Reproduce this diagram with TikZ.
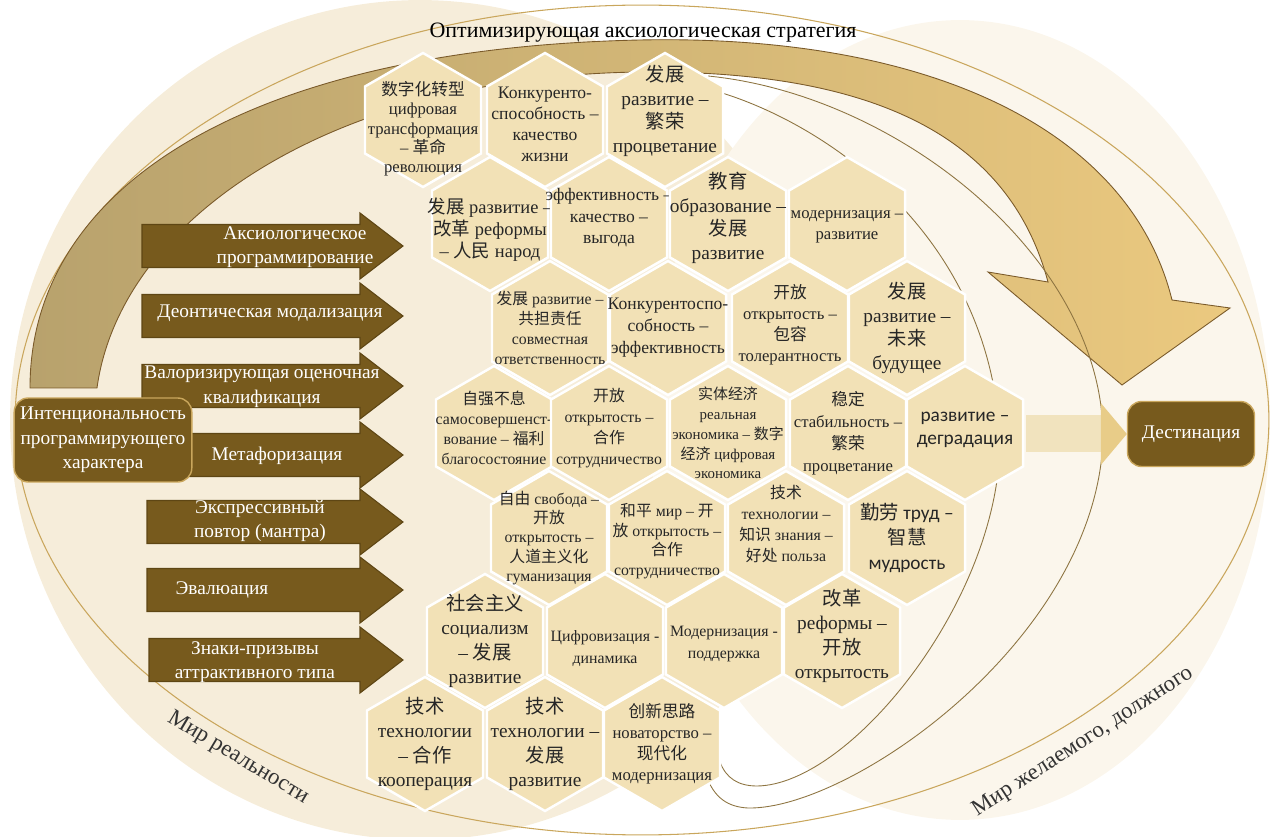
\documentclass[tikz,border=0pt]{standalone}
\usepackage{fontspec}
\setmainfont{Liberation Serif}
\newfontfamily\cjk{Noto Sans CJK SC}
\newfontfamily\calib{Carlito}
\newcommand{\zh}[1]{{\cjk #1}}
\usetikzlibrary{shapes.geometric,calc}

\definecolor{hexfill}{HTML}{F2E1B6}
\definecolor{arrowbrown}{HTML}{775A1D}
\definecolor{arrowedge}{HTML}{5E4614}
\definecolor{goldline}{HTML}{C9A65C}
\definecolor{realfill}{HTML}{F6EDDA}
\definecolor{wishfill}{HTML}{FBF6EC}
\definecolor{bandleft}{HTML}{B8A26D}
\definecolor{bandright}{HTML}{EBC97F}
\definecolor{bandedge}{HTML}{7A5A2A}
\definecolor{beigebody}{HTML}{F1E3BE}
\definecolor{beigehead}{HTML}{E8CC88}

\begin{document}
\begin{tikzpicture}[x=0.02cm,y=-0.02cm,
    hexa/.style={regular polygon, regular polygon sides=6, shape border rotate=30,
        minimum size=2.68cm, inner sep=0pt, fill=hexfill, draw=white, line width=1.4pt},
    hexlab/.style={align=center, inner sep=0pt, text=black!85},
    armtext/.style={align=center, text=white, font=\fontsize{11}{14}\selectfont},
    darkbox/.style={rounded corners=8pt, fill=arrowbrown, draw=goldline, line width=0.8pt,
        text=white, align=center, font=\fontsize{11}{14}\selectfont},
    worldlab/.style={text=black!80, font=\fontsize{13}{15}\selectfont}]
    \useasboundingbox (0,0) rectangle (1271,837);

    % deux mondes
    \fill[realfill] (420,420) ellipse [x radius=8.2cm, y radius=8.4cm];
    \fill[wishfill] (960,420) ellipse [x radius=6.2cm, y radius=8cm];
    \draw[goldline, line width=0.6pt] (642,420) ellipse [x radius=12.54cm, y radius=8.3cm];

    % grande fleche
    \shade[left color=bandleft, right color=bandright, draw=bandedge, line width=0.5pt]
        (30,388) .. controls (30,180) and (260,48) .. (640,40) .. controls (930,34) and (1130,130) .. (1172,300)
        -- (1230,308) -- (1122,385) -- (988,272) -- (1048,282)
        .. controls (1010,140) and (880,70) .. (640,72) .. controls (330,76) and (120,220) .. (97,388) -- cycle;
    \node[font=\fontsize{12.5}{14}\selectfont] (strat) at (643,33) {Оптимизирующая аксиологическая стратегия};

    % boucles fines
    \draw[goldline!70!black, line width=0.5pt] (708,76) .. controls (900,95) and (1105,260) .. (1103,440)
        .. controls (1095,640) and (850,810) .. (748,808) .. controls (728,807) and (714,798) .. (706,775);
    \draw[goldline!70!black, line width=0.5pt] (712,90) .. controls (820,120) and (990,230) .. (1000,440)
        .. controls (1000,600) and (850,785) .. (757,786) .. controls (738,786) and (726,778) .. (720,762);

    % ruche
    \node[hexa, label={[hexlab, font=\fontsize{9.5}{11}\selectfont, yshift=-0.18cm]center:{\zh{数字化转型}\\цифровая\\трансформация\\– \zh{革命}\\революция}}] (h11) at (423,120) {};
    \node[hexa, label={[hexlab, font=\fontsize{10}{12}\selectfont, yshift=-0.09cm]center:{Конкуренто-\\способность –\\качество\\жизни}}] (h12) at (545,120) {};
    \node[hexa, label={[hexlab, font=\fontsize{11}{13.5}\selectfont, yshift=0.18cm]center:{\zh{发展}\\развитие –\\\zh{繁荣}\\процветание}}] (h13) at (665,120) {};

    \node[hexa, label={[hexlab, font=\fontsize{10.5}{12.5}\selectfont, yshift=-0.12cm]center:{\zh{发展} развитие –\\\zh{改革} реформы\\– \zh{人民} народ}}] (h21) at (490,224) {};
    \node[hexa, label={[hexlab, font=\fontsize{10}{12.2}\selectfont, yshift=0.12cm]center:{эффективность –\\качество –\\выгода}}] (h22) at (609,224) {};
    \node[hexa, label={[hexlab, font=\fontsize{11}{13.5}\selectfont, yshift=0.12cm]center:{\zh{教育}\\образование –\\\zh{发展}\\развитие}}] (h23) at (728,224) {};
    \node[hexa, label={[hexlab, font=\fontsize{9.5}{12}\selectfont, yshift=-0.06cm]center:{модернизация –\\развитие}}] (h24) at (847,224) {};

    \node[hexa, label={[hexlab, font=\fontsize{9}{11.3}\selectfont]center:{\zh{发展} развитие –\\\zh{共担责任}\\совместная\\ответственность}}] (h31) at (550,328) {};
    \node[hexa, label={[hexlab, font=\fontsize{10}{12.5}\selectfont]center:{Конкурентоспо-\\собность –\\эффективность}}] (h32) at (668,328) {};
    \node[hexa, label={[hexlab, font=\fontsize{9.5}{12}\selectfont, yshift=0.06cm]center:{\zh{开放}\\открытость –\\\zh{包容}\\толерантность}}] (h33) at (790,328) {};
    \node[hexa, label={[hexlab, font=\fontsize{11}{13.5}\selectfont]center:{\zh{发展}\\развитие –\\\zh{未来}\\будущее}}] (h34) at (907,328) {};

    \node[hexa, label={[hexlab, font=\fontsize{9}{11.3}\selectfont, yshift=0.1cm]center:{\zh{自强不息}\\самосовершенст-\\вование – \zh{福利}\\благосостояние}}] (h41) at (494,433) {};
    \node[hexa, label={[hexlab, font=\fontsize{9}{12}\selectfont, yshift=0.1cm]center:{\zh{开放}\\открытость –\\\zh{合作}\\сотрудничество}}] (h42) at (609,433) {};
    \node[hexa, label={[hexlab, font=\fontsize{8.5}{11.3}\selectfont]center:{\zh{实体经济}\\реальная\\экономика – \zh{数字}\\\zh{经济} цифровая\\экономика}}] (h43) at (728,433) {};
    \node[hexa, label={[hexlab, font=\fontsize{9.5}{12.5}\selectfont]center:{\zh{稳定}\\стабильность –\\\zh{繁荣}\\процветание}}] (h44) at (848,433) {};
    \node[hexa, label={[hexlab, font=\calib\fontsize{11}{13.5}\selectfont, yshift=0.06cm]center:{развитие –\\деградация}}] (h45) at (965,433) {};

    \node[hexa, label={[hexlab, font=\fontsize{9}{11}\selectfont]center:{\zh{自由} свобода –\\\zh{开放}\\открытость –\\\zh{人道主义化}\\гуманизация}}] (h51) at (549,538) {};
    \node[hexa, label={[hexlab, font=\fontsize{9}{11.2}\selectfont, yshift=-0.06cm]center:{\zh{和平} мир – \zh{开}\\\zh{放} открытость –\\\zh{合作}\\сотрудничество}}] (h52) at (667,538) {};
    \node[hexa, label={[hexlab, font=\fontsize{9}{12}\selectfont, yshift=0.28cm]center:{\zh{技术}\\технологии –\\\zh{知识} знания –\\\zh{好处} польза}}] (h53) at (786,538) {};
    \node[hexa, label={[hexlab, font=\calib\fontsize{11}{14}\selectfont]center:{\zh{勤劳} труд –\\\zh{智慧}\\мудрость}}] (h54) at (907,538) {};

    \node[hexa, label={[hexlab, font=\fontsize{11}{14}\selectfont]center:{\zh{社会主义}\\социализм\\– \zh{发展}\\развитие}}] (h61) at (485,641) {};
    \node[hexa, label={[hexlab, font=\fontsize{9}{12.5}\selectfont, yshift=-0.16cm]center:{Цифровизация -\\динамика}}] (h62) at (605,641) {};
    \node[hexa, label={[hexlab, font=\fontsize{9}{12.5}\selectfont, yshift=-0.06cm]center:{Модернизация -\\поддержка}}] (h63) at (724,641) {};
    \node[hexa, label={[hexlab, font=\fontsize{11}{14}\selectfont, yshift=0.1cm]center:{\zh{改革}\\реформы –\\\zh{开放}\\открытость}}] (h64) at (842,641) {};

    \node[hexa, label={[hexlab, font=\fontsize{11}{14}\selectfont]center:{\zh{技术}\\технологии\\– \zh{合作}\\кооперация}}] (h71) at (425,744) {};
    \node[hexa, label={[hexlab, font=\fontsize{11}{14}\selectfont]center:{\zh{技术}\\технологии –\\\zh{发展}\\развитие}}] (h72) at (545,744) {};
    \node[hexa, label={[hexlab, font=\fontsize{9.5}{12}\selectfont]center:{\zh{创新思路}\\новаторство –\\\zh{现代化}\\модернизация}}] (h73) at (662,744) {};

    % fleches de gauche
    \foreach \yc/\xl in {246/142,316/142,386/142,455/142,522/147,590/147,660/149} {
        \fill[arrowbrown, draw=arrowedge, line width=0.6pt] (\xl,\yc-21.5) -- (360,\yc-21.5) -- (360,\yc-33)
            -- (403,\yc) -- (360,\yc+33) -- (360,\yc+21.5) -- (\xl,\yc+21.5) -- cycle;
    }
    \node[armtext] (a1) at (295,247) {Аксиологическое\\программирование};
    \node[armtext] (a2) at (270,313) {Деонтическая модализация};
    \node[armtext] (a3) at (262,387) {Валоризирующая оценочная\\квалификация};
    \node[armtext] (a4) at (277,456) {Метафоризация};
    \node[armtext] (a5) at (260,521) {Экспрессивный\\повтор (мантра)};
    \node[armtext] (a6) at (222,590) {Эвалюация};
    \node[armtext] (a7) at (255,662) {Знаки-призывы\\аттрактивного типа};

    \node[darkbox, minimum width=3.46cm, minimum height=1.68cm] (intent) at (103,440)
        {Интенциональность\\программирующего\\характера};
    \node[darkbox, minimum width=2.54cm, minimum height=1.3cm] (dest) at (1191,434) {Дестинация};

    % vers la destination
    \fill[beigebody] ($(h45.east)+(2,-18)$) rectangle ($(dest.west)+(-26,18)$);
    \fill[beigehead] ($(dest.west)+(-26,-31)$) -- (dest.west) -- ($(dest.west)+(-26,31)$) -- cycle;

    % les mondes
    \node[worldlab, rotate=-31] (real) at (238,758) {Мир реальности};
    \node[worldlab, rotate=33] (wish) at (1083,742) {Мир желаемого, должного};
\end{tikzpicture}
\end{document}
